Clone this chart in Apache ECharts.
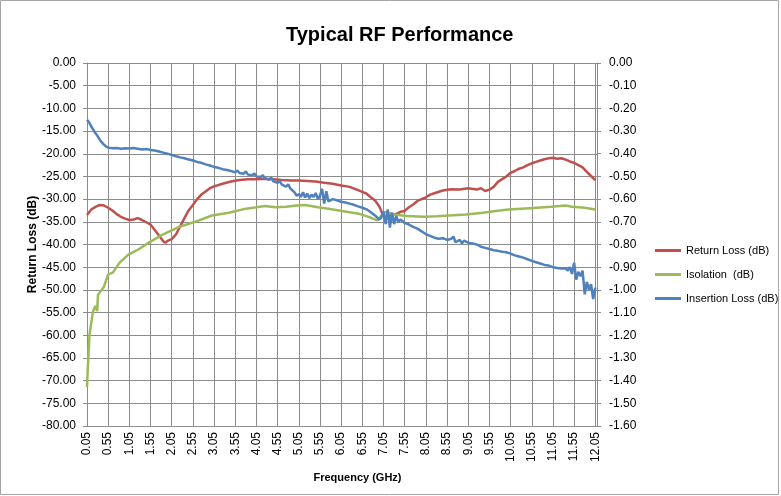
<!DOCTYPE html>
<html>
<head>
<meta charset="utf-8">
<title>Typical RF Performance</title>
<script src="https://cdn.jsdelivr.net/npm/echarts@6/dist/echarts.min.js"></script>
<style>
  html, body { margin: 0; padding: 0; background: #fff; }
  #chart { width: 781px; height: 496px; }
</style>
</head>
<body>
<div id="chart"></div>
<script>
/* =========================================
   DATA
   ========================================= */
// frequency axis ticks (GHz)
const freqTicks = [0.05, 0.55, 1.05, 1.55, 2.05, 2.55, 3.05, 3.55, 4.05, 4.55, 5.05, 5.55,
  6.05, 6.55, 7.05, 7.55, 8.05, 8.55, 9.05, 9.55, 10.05, 10.55, 11.05, 11.55, 12.05];

// [GHz, dB] - left axis
const returnLoss = [
  [0.05, -33.5], [0.15, -32.3], [0.25, -31.7], [0.35, -31.3], [0.45, -31.4], [0.55, -31.9],
  [0.65, -32.5], [0.75, -33.3], [0.85, -33.9], [0.95, -34.3], [1.05, -34.6], [1.15, -34.5],
  [1.25, -34.2], [1.35, -34.6], [1.45, -35.1], [1.55, -35.6], [1.65, -36.8], [1.75, -38.0],
  [1.85, -39.3], [1.9, -39.6], [1.95, -39.2], [2.05, -38.8], [2.15, -37.8], [2.25, -36.0],
  [2.35, -34.2], [2.45, -32.5], [2.55, -31.3], [2.65, -30.0], [2.75, -29.0], [2.85, -28.3],
  [2.95, -27.6], [3.05, -27.2], [3.25, -26.6], [3.45, -26.1], [3.65, -25.8], [3.85, -25.6],
  [4.05, -25.6], [4.25, -25.5], [4.45, -25.6], [4.65, -25.8], [4.85, -25.9], [5.05, -25.9],
  [5.25, -26.0], [5.45, -26.1], [5.65, -26.4], [5.85, -26.6], [6.05, -27.0], [6.25, -27.3],
  [6.45, -28.0], [6.65, -28.8], [6.75, -29.6], [6.85, -30.3], [6.95, -31.6], [7.05, -33.8],
  [7.15, -34.0], [7.25, -33.4], [7.35, -33.3], [7.45, -32.8], [7.55, -32.6], [7.65, -31.8],
  [7.75, -31.2], [7.85, -30.4], [7.95, -30.0], [8.05, -29.6], [8.15, -29.0], [8.25, -28.7],
  [8.45, -28.1], [8.65, -27.8], [8.85, -27.9], [9.05, -27.6], [9.25, -27.9], [9.35, -27.6],
  [9.45, -28.2], [9.55, -27.9], [9.65, -27.3], [9.75, -26.2], [9.85, -25.6], [9.95, -25.0],
  [10.05, -24.2], [10.15, -23.8], [10.25, -23.3], [10.35, -23.0], [10.45, -22.5], [10.55, -22.1],
  [10.65, -21.8], [10.75, -21.5], [10.85, -21.2], [10.95, -21.0], [11.05, -20.9], [11.15, -21.1],
  [11.25, -21.0], [11.35, -21.3], [11.45, -21.7], [11.55, -22.0], [11.65, -22.5], [11.75, -23.0],
  [11.85, -24.0], [11.95, -24.9], [12.05, -25.8]
];

// [GHz, dB] - left axis
const isolation = [
  [0.05, -71.4], [0.07, -67.0], [0.11, -59.8], [0.19, -54.8], [0.25, -53.5], [0.29, -54.7],
  [0.31, -51.1], [0.45, -49.3], [0.55, -46.6], [0.66, -46.2], [0.82, -44.0], [1.02, -42.3],
  [1.26, -41.1], [1.49, -39.7], [1.8, -38.0], [2.2, -36.2], [2.6, -35.0], [3.0, -33.6],
  [3.4, -33.0], [3.8, -32.1], [4.05, -31.8], [4.25, -31.5], [4.5, -31.8], [4.75, -31.7],
  [5.0, -31.4], [5.2, -31.3], [5.5, -31.8], [5.75, -32.1], [6.0, -32.5], [6.25, -32.9],
  [6.5, -33.3], [6.7, -33.9], [6.9, -34.7], [7.0, -33.6], [7.1, -32.8], [7.3, -33.4],
  [7.6, -33.7], [8.0, -33.9], [8.3, -33.8], [8.6, -33.6], [9.0, -33.4], [9.4, -33.0],
  [9.7, -32.6], [10.0, -32.3], [10.5, -32.0], [11.0, -31.7], [11.35, -31.4], [11.5, -31.7],
  [11.8, -31.9], [12.05, -32.3]
];

// [GHz, dB] - right axis
const insertionLoss = [
  [0.05, -0.25], [0.1, -0.262], [0.15, -0.28], [0.2, -0.295], [0.25, -0.31], [0.3, -0.322],
  [0.35, -0.338], [0.4, -0.35], [0.45, -0.36], [0.5, -0.368], [0.55, -0.373], [0.65, -0.376],
  [0.75, -0.375], [0.85, -0.378], [0.95, -0.376], [1.05, -0.377], [1.15, -0.375], [1.25, -0.378],
  [1.35, -0.381], [1.45, -0.379], [1.55, -0.383], [1.65, -0.386], [1.75, -0.39], [1.85, -0.395],
  [1.95, -0.4], [2.05, -0.405], [2.15, -0.411], [2.25, -0.416], [2.35, -0.42], [2.45, -0.425],
  [2.55, -0.43], [2.65, -0.436], [2.75, -0.44], [2.85, -0.447], [2.95, -0.452], [3.05, -0.458],
  [3.15, -0.462], [3.25, -0.468], [3.35, -0.472], [3.45, -0.476], [3.55, -0.482], [3.6, -0.474],
  [3.65, -0.485], [3.75, -0.488], [3.8, -0.478], [3.85, -0.492], [3.95, -0.495], [4.0, -0.487],
  [4.05, -0.5], [4.15, -0.502], [4.2, -0.494], [4.25, -0.508], [4.35, -0.515], [4.4, -0.505],
  [4.45, -0.522], [4.55, -0.528], [4.6, -0.52], [4.65, -0.536], [4.75, -0.545], [4.8, -0.535],
  [4.85, -0.553], [4.95, -0.57], [5.0, -0.585], [5.05, -0.578], [5.1, -0.59], [5.15, -0.57],
  [5.2, -0.593], [5.25, -0.575], [5.3, -0.596], [5.35, -0.58], [5.4, -0.59], [5.45, -0.573],
  [5.5, -0.6], [5.55, -0.585], [5.6, -0.555], [5.65, -0.62], [5.7, -0.565], [5.75, -0.61],
  [5.85, -0.6], [5.95, -0.605], [6.05, -0.612], [6.15, -0.615], [6.25, -0.62], [6.35, -0.625],
  [6.45, -0.632], [6.55, -0.638], [6.65, -0.645], [6.75, -0.658], [6.85, -0.672], [6.95, -0.69],
  [7.0, -0.68], [7.05, -0.655], [7.1, -0.71], [7.15, -0.645], [7.2, -0.725], [7.25, -0.66],
  [7.3, -0.71], [7.35, -0.675], [7.4, -0.7], [7.45, -0.69], [7.55, -0.705], [7.65, -0.712],
  [7.75, -0.722], [7.85, -0.73], [7.95, -0.742], [8.05, -0.755], [8.15, -0.762], [8.25, -0.77],
  [8.35, -0.775], [8.45, -0.772], [8.55, -0.78], [8.65, -0.775], [8.7, -0.765], [8.75, -0.79],
  [8.85, -0.78], [8.9, -0.795], [8.95, -0.783], [9.05, -0.792], [9.15, -0.795], [9.25, -0.8],
  [9.35, -0.81], [9.45, -0.815], [9.55, -0.82], [9.65, -0.825], [9.75, -0.828], [9.85, -0.832],
  [9.95, -0.834], [10.05, -0.84], [10.15, -0.848], [10.25, -0.853], [10.35, -0.858], [10.45, -0.865],
  [10.55, -0.872], [10.65, -0.878], [10.75, -0.884], [10.85, -0.89], [10.95, -0.893], [11.05, -0.9],
  [11.15, -0.904], [11.25, -0.906], [11.35, -0.905], [11.4, -0.915], [11.45, -0.9], [11.5, -0.93],
  [11.55, -0.88], [11.6, -0.955], [11.65, -0.92], [11.7, -0.94], [11.75, -0.915], [11.8, -1.02],
  [11.85, -0.965], [11.9, -1.0], [11.95, -0.975], [12.0, -1.04], [12.05, -0.99]
];

/* =========================================
   CHART
   ========================================= */
const FONT = "Liberation Sans, Arial, sans-serif";
const GRID_COLOR = "#8c8c8c";

function initChart() {
  const dom = document.getElementById("chart");
  const chart = echarts.init(dom, null, { renderer: "canvas" });

  const option = {
    backgroundColor: "#fff",
    animation: false,
    title: {
      text: "Typical RF Performance",
      left: 281,
      top: 20,
      textStyle: { fontFamily: FONT, fontSize: 20, fontWeight: "bold", color: "#000" },
    },
    legend: {
      orient: "vertical",
      left: 650,
      top: 240,
      itemWidth: 26,
      itemHeight: 3,
      itemGap: 13,
      icon: "rect",
      textStyle: { fontFamily: FONT, fontSize: 11, color: "#000" },
      data: ["Return Loss (dB)", "Isolation  (dB)", "Insertion Loss (dB)"],
    },
    grid: { left: 87, right: 184, top: 63, bottom: 70 },
    xAxis: {
      type: "value",
      min: 0.05,
      max: 12.09,
      name: "Frequency (GHz)",
      nameLocation: "middle",
      nameGap: 46,
      nameTextStyle: {
        fontFamily: FONT, fontSize: 11, fontWeight: "bold", color: "#000",
        padding: [0, 0, 0, 31],
      },
      axisLine: { show: true, lineStyle: { color: GRID_COLOR } },
      axisTick: { show: true, length: 5, customValues: freqTicks, lineStyle: { color: GRID_COLOR } },
      axisLabel: {
        customValues: freqTicks,
        rotate: 90,
        margin: 6,
        fontFamily: FONT,
        fontSize: 12,
        color: "#000",
        formatter: (v) => v.toFixed(2),
      },
      splitLine: { show: true, lineStyle: { color: GRID_COLOR, width: 1 } },
    },
    yAxis: [
      {
        type: "value",
        min: -80,
        max: 0,
        interval: 5,
        name: "Return Loss (dB)",
        nameLocation: "middle",
        nameGap: 48,
        nameMoveOverlap: false,
        nameTextStyle: { fontFamily: FONT, fontSize: 12, fontWeight: "bold", color: "#000" },
        axisLine: { show: true, lineStyle: { color: GRID_COLOR } },
        axisTick: { show: true, length: 4, lineStyle: { color: GRID_COLOR } },
        axisLabel: {
          margin: 11, fontFamily: FONT, fontSize: 12, color: "#000",
          formatter: (v) => v.toFixed(2),
        },
        splitLine: { show: true, lineStyle: { color: GRID_COLOR, width: 1 } },
      },
      {
        type: "value",
        min: -1.6,
        max: 0,
        interval: 0.1,
        position: "right",
        axisLine: { show: true, lineStyle: { color: GRID_COLOR } },
        axisTick: { show: true, length: 4, lineStyle: { color: GRID_COLOR } },
        axisLabel: {
          margin: 12, fontFamily: FONT, fontSize: 12, color: "#000",
          formatter: (v) => v.toFixed(2),
        },
        splitLine: { show: false },
      },
    ],
    series: [
      {
        name: "Return Loss (dB)",
        type: "line",
        data: returnLoss,
        showSymbol: false,
        color: "#c0504d",
        lineStyle: { width: 2.5, color: "#c0504d" },
      },
      {
        name: "Isolation  (dB)",
        type: "line",
        data: isolation,
        showSymbol: false,
        color: "#9bbb59",
        lineStyle: { width: 2.5, color: "#9bbb59" },
      },
      {
        name: "Insertion Loss (dB)",
        type: "line",
        yAxisIndex: 1,
        data: insertionLoss,
        showSymbol: false,
        color: "#4f81bd",
        lineStyle: { width: 2.5, color: "#4f81bd" },
      },
    ],
    graphic: [
      {
        type: "rect",
        shape: { x: 0.5, y: 0.5, width: 778, height: 494 },
        style: { fill: "none", stroke: "#a6a6a6", lineWidth: 1 },
        silent: true,
      },
    ],
  };

  chart.setOption(option);
  window.addEventListener("resize", () => chart.resize());
}

document.addEventListener("DOMContentLoaded", initChart);
</script>
</body>
</html>
